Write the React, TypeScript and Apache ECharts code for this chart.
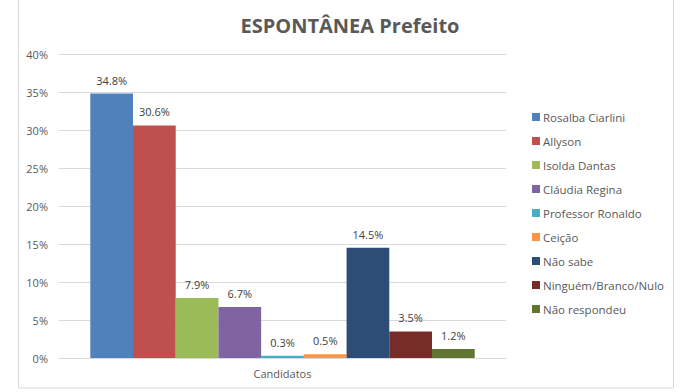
import React, { useEffect, useRef } from "react";
import * as echarts from "echarts";

const categories = ["Candidatos"];
const seriesNames = [
  "Rosalba Ciarlini",
  "Allyson",
  "Isolda Dantas",
  "Cláudia Regina",
  "Professor Ronaldo",
  "Ceição",
  "Não sabe",
  "Ninguém/Branco/Nulo",
  "Não respondeu",
];
const seriesValues = [34.8, 30.6, 7.9, 6.7, 0.3, 0.5, 14.5, 3.5, 1.2];
const colors = [
  "#4F81BD",
  "#C0504D",
  "#9BBB59",
  "#8064A2",
  "#4BACC6",
  "#F79646",
  "#2C4D75",
  "#772C2A",
  "#5F7530",
];

const FONT = "'Open Sans', 'Noto Sans', sans-serif";

export default function App() {
  const ref = useRef<HTMLDivElement>(null);
  useEffect(() => {
    if (!ref.current) return;
    const chart = echarts.init(ref.current, undefined, { renderer: "svg" });
    chart.setOption({
      animation: false,
      backgroundColor: "#ffffff",
      title: {
        text: "ESPONTÂNEA Prefeito",
        left: 345,
        textAlign: "center",
        top: 10,
        textStyle: { fontFamily: FONT, fontSize: 20, fontWeight: "bold", color: "#595959" },
      },
      graphic: [
        {
          type: "rect",
          shape: { x: 18.5, y: -2, width: 655, height: 390 },
          style: { fill: "none", stroke: "#d9d9d9", lineWidth: 1 },
          silent: true,
        },
      ],
      legend: {
        orient: "vertical",
        left: 527,
        top: 105,
        icon: "rect",
        itemWidth: 8,
        itemHeight: 8,
        itemGap: 10,
        textStyle: { fontFamily: FONT, fontSize: 11.5, color: "#595959", lineHeight: 14, padding: [0, 0, 0, -2] },
        data: seriesNames,
      },
      grid: { left: 59, right: 194, top: 54, bottom: 34 },
      xAxis: {
        type: "category",
        data: categories,
        axisTick: { show: false },
        axisLine: { lineStyle: { color: "#d9d9d9" } },
        axisLabel: { color: "#595959", fontSize: 11, fontFamily: FONT, margin: 10 },
      },
      yAxis: {
        type: "value",
        min: 0,
        max: 40,
        interval: 5,
        axisLine: { show: false },
        axisTick: { show: false },
        splitLine: { lineStyle: { color: "#d9d9d9" } },
        axisLabel: { formatter: "{value}%", color: "#595959", fontSize: 11, fontFamily: FONT, margin: 11 },
      },
      series: seriesNames.map((name, i) => ({
        name,
        type: "bar",
        data: [seriesValues[i]],
        itemStyle: { color: colors[i] },
        barGap: "0%",
        barCategoryGap: "14%",
        label: {
          show: true,
          position: "top",
          distance: 8,
          formatter: (p: any) => p.value.toFixed(1) + "%",
          color: "#404040",
          fontSize: 11,
          fontFamily: FONT,
        },
      })),
    });
    return () => chart.dispose();
  }, []);
  return <div ref={ref} style={{ width: 700, height: 392, position: "absolute", left: 0, top: 0 }} />;
}
